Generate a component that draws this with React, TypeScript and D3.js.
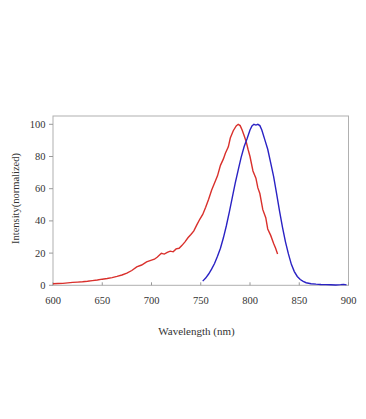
import React from 'react'
import * as d3 from 'd3'

// excitation (red) and emission (blue) spectra
const redNm = [600, 605, 610, 615, 620, 625, 630, 635, 640, 645, 650, 655, 660, 665, 670, 675, 680, 685, 690, 695, 700, 703, 706, 710, 713, 716, 719, 722, 725, 728, 731, 734, 737, 740, 743, 746, 749, 752, 755, 758, 761, 764, 767, 770, 773, 775, 778, 780, 783, 786, 788, 790, 792, 794, 796, 798, 800, 803, 806, 808, 810, 813, 816, 818, 821, 824, 826, 828]
const redVal = [1.0, 1.1, 1.2, 1.5, 1.8, 2.0, 2.2, 2.5, 2.9, 3.3, 3.8, 4.2, 4.8, 5.5, 6.4, 7.5, 9.2, 11.4, 12.6, 14.6, 15.6, 16.2, 17.6, 19.9, 19.4, 20.4, 21.2, 20.8, 22.6, 23.0, 24.8, 27.0, 29.5, 31.6, 33.8, 37.5, 41.0, 44.0, 48.5, 53.5, 59.0, 63.5, 68.0, 74.5, 78.5, 82.0, 86.0, 91.5, 96.0, 99.0, 100, 99.2, 96.5, 93.0, 89.5, 84.5, 80.0, 71.0, 66.5, 60.5, 57.0, 47.0, 42.0, 35.0, 31.0, 26.0, 23.0, 19.5]

const blueNm = [752, 755, 758, 761, 764, 767, 770, 773, 776, 779, 782, 785, 788, 791, 794, 797, 800, 802, 804, 806, 808, 810, 812, 815, 818, 821, 824, 827, 830, 833, 836, 839, 842, 845, 848, 851, 854, 857, 862, 867, 872, 877, 882, 887, 892, 895, 898]
const blueVal = [2.6, 4.5, 7.0, 10.0, 13.5, 18.0, 23.0, 29.5, 37.0, 45.5, 54.5, 63.5, 71.5, 79.5, 86.0, 91.0, 96.5, 99.0, 100, 99.5, 100, 99.2, 96.5, 90.5, 84.5, 76.0, 67.5, 57.0, 46.0, 36.0, 27.0, 19.5, 13.0, 8.5, 5.5, 3.6, 2.4, 1.6, 1.0, 0.7, 0.5, 0.4, 0.3, 0.2, 0.4, 0.6, 0.3]

const xTicks = [600, 650, 700, 750, 800, 850, 900]
const yTicks = [0, 20, 40, 60, 80, 100]

const left = 53
const right = 348.5
const top = 116
const bottom = 285.3

export default function App() {
  const x = d3.scaleLinear().domain([600, 900]).range([left, right])
  const y = d3.scaleLinear().domain([0, 100]).range([bottom, 124.3])
  const line = d3.line<[number, number]>().x(d => x(d[0])).y(d => y(d[1]))

  const red = line(redNm.map((n, i) => [n, redVal[i]]))
  const blue = line(blueNm.map((n, i) => [n, blueVal[i]]))

  const font = '"Liberation Serif", "Times New Roman", serif'

  return (
    <svg width={366} height={419} style={{ position: 'absolute', left: 0, top: 0, background: '#fff' }}
      fontFamily={font}>
      <rect x={left} y={top} width={right - left} height={bottom - top} fill="none" stroke="#b0b0b0" strokeWidth={1} />
      {yTicks.map(t => (
        <g key={t}>
          <line x1={left - 4} x2={left} y1={y(t)} y2={y(t)} stroke="#999" />
          <text x={45.5} y={y(t) + 3.5} textAnchor="end" fontSize={10.5} fill="#333">{t}</text>
        </g>
      ))}
      {xTicks.map(t => (
        <g key={t}>
          <line x1={x(t)} x2={x(t)} y1={bottom} y2={bottom - 3} stroke="#999" />
          <text x={x(t)} y={303.5} textAnchor="middle" fontSize={10.5} fill="#333">{t}</text>
        </g>
      ))}
      <path d={red || ''} fill="none" stroke="#d9302c" strokeWidth={1.4} />
      <path d={blue || ''} fill="none" stroke="#2a22c4" strokeWidth={1.4} />
      <text x={196.5} y={335} textAnchor="middle" fontSize={11} fill="#333">Wavelength (nm)</text>
      <text transform="translate(19,198.5) rotate(-90)" textAnchor="middle" fontSize={10.5} fill="#333">Intensity(normalized)</text>
    </svg>
  )
}
